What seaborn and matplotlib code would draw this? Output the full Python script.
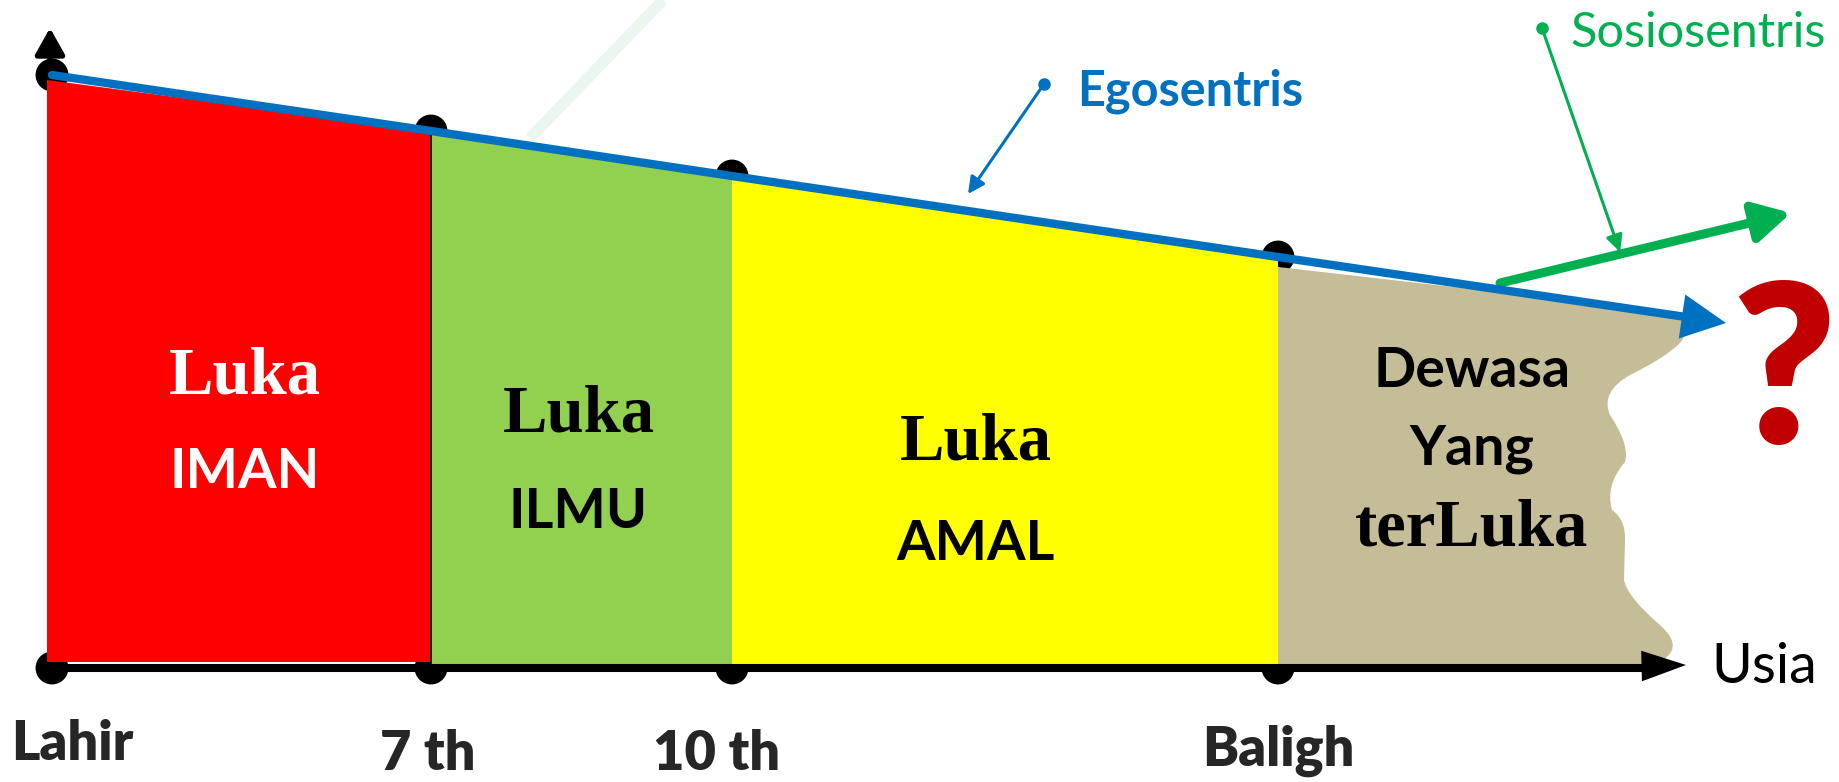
from __future__ import annotations

import matplotlib

matplotlib.use("Agg", force=True)
import matplotlib.pyplot as plt
import pandas as pd
import seaborn as sns
from matplotlib.patches import PathPatch
from matplotlib.path import Path


# age marks along the bottom axis (pixel units of the 1839x782 canvas)
AGE_LABELS = ["Lahir", "7 th", "10 th", "Baligh"]
AGE_X = [52, 431, 732, 1278]
EGO_Y = [75, 131, 176, 257]          # height of the egosentris line at each mark
EGO_END = (1726, 323)
SOSIO_START = (1500, 283)
SOSIO_END = (1791, 213)

STAGES = ["IMAN", "ILMU", "AMAL"]
STAGE_COLORS = ["#FF0000", "#92D050", "#FFFF00"]
STAGE_TEXT_COLORS = ["white", "black", "black"]
STAGE_TOP_LEFT = [80, 134, 177]
STAGE_TOP_RIGHT = [131, 177, 260]
ADULT_LINES = ["Dewasa", "Yang"]

BASE_Y = 667
W, H = 1839, 782


def set_style() -> None:
    sns.set_theme(style="white")
    plt.rcParams["font.family"] = ["Lato", "DejaVu Sans"]


def draw_stages(ax) -> None:
    for i, name in enumerate(STAGES):
        x0, x1 = AGE_X[i], AGE_X[i + 1]
        left = 47 if i == 0 else x0
        bottom = BASE_Y - 5 if i == 0 else BASE_Y
        ax.fill(
            [left, x1, x1, left],
            [STAGE_TOP_LEFT[i], STAGE_TOP_RIGHT[i], bottom, bottom],
            color=STAGE_COLORS[i], zorder=2, lw=0,
        )
    # thin divider between red and green
    ax.plot([AGE_X[1], AGE_X[1]], [STAGE_TOP_RIGHT[0], BASE_Y], color="black", lw=1.2, zorder=2.1)

    # wavy "dewasa" block
    verts = [
        (AGE_X[3], 267), (1655, 310),
        (1700, 318), (1680, 343),
        (1665, 358), (1630, 375),
        (1600, 392), (1610, 415),
        (1630, 445), (1625, 462),
        (1605, 485), (1612, 510),
        (1626, 520), (1625, 540),
        (1624, 580),
        (1628, 598), (1660, 625),
        (1688, 650), (1655, BASE_Y - 3),
        (AGE_X[3], BASE_Y - 3), (AGE_X[3], 267),
    ]
    codes = [Path.MOVETO, Path.LINETO] + [Path.CURVE3] * 12 + [Path.LINETO] + [Path.CURVE3] * 4 + [Path.LINETO, Path.CLOSEPOLY]
    ax.add_patch(PathPatch(Path(verts, codes), facecolor="#C4BD97", lw=0, zorder=2))


def draw_axes(ax) -> None:
    dots = pd.DataFrame({"x": AGE_X + AGE_X, "y": EGO_Y + [BASE_Y + 1] * len(AGE_X)})
    sns.scatterplot(data=dots, x="x", y="y", s=560, color="black", edgecolor="none", zorder=1, ax=ax)

    ax.annotate("", xy=(50, 28), xytext=(50, BASE_Y),
                arrowprops=dict(arrowstyle="-|>,head_length=0.8,head_width=0.45", lw=4,
                                color="black", shrinkA=0, shrinkB=0, mutation_scale=20), zorder=0.5)
    ax.annotate("", xy=(1686, BASE_Y - 2), xytext=(1600, BASE_Y),
                arrowprops=dict(arrowstyle="-|>,head_length=1.6,head_width=0.55", lw=0,
                                color="black", shrinkA=0, shrinkB=0, mutation_scale=20), zorder=4)
    ax.plot([46, 1650], [BASE_Y + 1, BASE_Y + 1], color="black", lw=5.8, zorder=4, solid_capstyle="butt")

    ego = pd.DataFrame({"x": AGE_X + [EGO_END[0] - 40], "y": EGO_Y + [EGO_END[1] - 6]})
    sns.lineplot(data=ego, x="x", y="y", color="#0070C0", lw=6, zorder=3, ax=ax)
    ax.annotate("", xy=EGO_END, xytext=(AGE_X[2], EGO_Y[2]),
                arrowprops=dict(arrowstyle="-|>,head_length=1.6,head_width=0.8", lw=0,
                                color="#0070C0", shrinkA=0, shrinkB=0, mutation_scale=20), zorder=3)

    ax.annotate("", xy=SOSIO_END, xytext=SOSIO_START,
                arrowprops=dict(arrowstyle="-|>,head_length=1.1,head_width=0.6", lw=6.5,
                                color="#00B050", shrinkA=0, shrinkB=0, mutation_scale=20), zorder=2.5)

    # faint leftover stroke
    ax.plot([530, 663], [138, 0], color="#EAF6EE", lw=8, zorder=0.2, solid_capstyle="butt")


def draw_callouts(ax) -> None:
    for dot, tip, color in [((1044, 84), (968, 194), "#0070C0"), ((1542, 28), (1620, 252), "#00B050")]:
        ax.annotate("", xy=tip, xytext=dot,
                    arrowprops=dict(arrowstyle="-|>,head_length=0.5,head_width=0.25", lw=2.2,
                                    color=color, shrinkA=0, shrinkB=0, mutation_scale=20), zorder=5)
        ax.plot(*dot, "o", color=color, ms=8, zorder=5)
    ax.text(1077, 106, "Egosentris", color="#0070C0", fontsize=35, fontweight="bold", va="baseline")
    ax.text(1570, 47, "Sosiosentris", color="#00B050", fontsize=35, va="baseline")
    ax.text(1784, 443, "?", color="#C00000", fontsize=160, fontweight="heavy", ha="center", va="baseline")
    ax.text(1711, 683, "Usia", color="black", fontsize=40, va="baseline")


def draw_labels(ax) -> None:
    label_x = [72, 428, 717, 1278]
    label_base = [760, 770, 770, 766]
    for label, x, y in zip(AGE_LABELS, label_x, label_base):
        ax.text(x, y, label, fontsize=39, fontweight="heavy", ha="center", va="baseline")

    luka = dict(family=["Liberation Serif"], fontweight="bold", fontsize=48,
                ha="center", va="baseline")
    name_kw = dict(fontsize=40, fontweight="bold", ha="center", va="baseline")
    luka_pos = [(245, 393), (579, 432), (976, 460)]
    name_pos = [(245, 488), (578, 528), (976, 560)]
    for i, stage in enumerate(STAGES):
        ax.text(*luka_pos[i], "Luka", color=STAGE_TEXT_COLORS[i], **luka)
        ax.text(*name_pos[i], stage, color=STAGE_TEXT_COLORS[i], **name_kw)

    for text, y in zip(ADULT_LINES, [387, 465]):
        ax.text(1472, y, text, color="black", **name_kw)
    ax.text(1472, 545, "terLuka", color="black", **luka)


def main() -> None:
    set_style()
    fig = plt.figure(figsize=(W / 100, H / 100), dpi=100)
    ax = fig.add_axes([0, 0, 1, 1])
    draw_stages(ax)
    draw_axes(ax)
    draw_callouts(ax)
    draw_labels(ax)
    ax.set_xlim(0, W)
    ax.set_ylim(H, 0)
    ax.axis("off")
    fig.savefig("out.png", dpi=100, facecolor="white")
    plt.close(fig)


if __name__ == "__main__":
    main()
